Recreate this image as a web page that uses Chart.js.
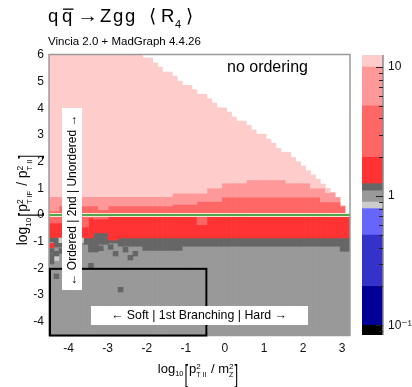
<!DOCTYPE html>
<html>
<head>
<meta charset="utf-8">
<script src="https://cdn.jsdelivr.net/npm/chart.js@4.4.0/dist/chart.umd.min.js"></script>
<style>
html, body { margin: 0; padding: 0; background: #fff; }
#wrap { position: relative; width: 412px; height: 387px; overflow: hidden; }
#main { position: absolute; left: 0; top: 0; }
#zbar { position: absolute; left: 355px; top: 0; }
</style>
</head>
<body>
<div id="wrap">
  <canvas id="main" width="412" height="387"></canvas>
  <canvas id="zbar" width="57" height="387"></canvas>
</div>
<script>
// --- Data ---
const xMin = -4.5, xMax = 3.2, yMin = -4.5, yMax = 6;
const nCols = 61;
const yBin = 0.175;
const xTicks = [-4, -3, -2, -1, 0, 1, 2, 3];
const yTicks = [-4, -3, -2, -1, 0, 1, 2, 3, 4, 5, 6];
const zeroLineY = 0;

// upper edge of filled region per column (white above)
const topEdge = [
  6, 6, 6, 6, 6, 6, 6, 6, 6, 6,
  6, 6, 6, 6, 6, 6, 6, 6, 6, 5.89,
  5.89, 5.71, 5.55, 5.36, 5.36, 5.21, 5.02, 4.86, 4.86, 4.70,
  4.53, 4.53, 4.36, 4.20, 4.02, 4.02, 3.86, 3.67, 3.52, 3.52,
  3.36, 3.19, 3.03, 3.03, 2.85, 2.69, 2.50, 2.35, 2.35, 2.16,
  2.00, 1.84, 1.66, 1.50, 1.34, 1.16, 1.00, 0.84, 0.66, 0.34,
  0.05
];
// lower edge of the >10 band
const pinkEdge = [
  0.69, 0.69, 0.69, 0.69, 0.69, 0.69, 0.69, 0.69, 0.69, 0.69,
  0.69, 0.69, 0.69, 0.69, 0.69, 0.69, 0.69, 0.69, 0.69, 0.69,
  0.69, 0.69, 0.69, 0.69, 0.69, 0.82, 0.82, 0.82, 0.82, 0.82,
  0.82, 0.82, 1.01, 1.01, 1.01, 1.20, 1.20, 1.20, 1.20, 1.20,
  1.32, 1.32, 1.32, 1.32, 1.32, 1.32, 1.32, 1.32, 1.20, 1.20,
  1.20, 1.20, 1.20, 1.01, 1.01, 1.01, 0.84, 0.84, 0.66, 0.34,
  0.05
];
// lower edge of the 5-10 band
const midEdge = [
  0.15, 0.15, 0.34, 0.34, 0.34, 0.34, 0.34, 0.34, 0.34, 0.34,
  0.20, 0.20, 0.34, 0.34, 0.34, 0.34, 0.34, 0.34, 0.34, 0.34,
  0.34, 0.34, 0.34, 0.34, 0.34, 0.40, 0.40, 0.40, 0.40, 0.40,
  0.51, 0.51, 0.51, 0.51, 0.51, 0.67, 0.67, 0.67, 0.67, 0.67,
  0.67, 0.67, 0.67, 0.67, 0.67, 0.67, 0.67, 0.67, 0.67, 0.67,
  0.67, 0.67, 0.67, 0.67, 0.67, 0.49, 0.49, 0.49, 0.49, 0.33,
  0.05
];
// below zero: lower edge of the 2-5 band
const redEdge = [
  -0.30, -0.30, -0.30, -0.30, -0.30, -0.30, -0.45, -0.45, -0.10, -0.15,
  -0.15, -0.15, -0.06, -0.06, -0.06, -0.06, -0.06, -0.06, -0.06, -0.06,
  -0.06, -0.06, -0.06, -0.06, -0.06, -0.06, -0.06, -0.06, -0.06, -0.06,
  -0.36, -0.36, -0.06, -0.06, -0.06, -0.06, -0.06, -0.06, -0.06, -0.06,
  -0.06, -0.06, -0.06, -0.06, -0.06, -0.06, -0.06, -0.06, -0.06, -0.06,
  -0.06, -0.06, -0.06, -0.06, -0.06, -0.06, -0.06, -0.06, -0.06, -0.06,
  -0.06
];
// lower edge of the 1.25-2 band
const grayTop = [
  -0.84, -0.84, -0.84, -0.86, -0.86, -0.86, -0.86, -0.86, -0.86, -0.67,
  -0.67, -0.67, -0.94, -0.94, -0.86, -0.86, -0.86, -0.86, -0.86, -0.86,
  -0.86, -0.86, -0.86, -0.86, -0.86, -0.86, -0.86, -0.86, -0.86, -0.86,
  -0.86, -0.86, -0.86, -0.86, -0.86, -0.86, -0.86, -0.86, -0.86, -0.86,
  -0.86, -0.86, -0.86, -0.86, -0.86, -0.86, -0.86, -0.86, -0.86, -0.86,
  -0.86, -0.86, -0.86, -0.86, -0.86, -0.86, -0.86, -0.86, -0.86, -0.86,
  -0.86
];
// lower edge of the 1.1-1.25 band
const grayBottom = [
  -1.00, -1.20, -1.20, -1.10, -1.10, -1.10, -0.86, -1.10, -1.20, -1.20,
  -1.10, -1.10, -1.05, -1.05, -1.17, -1.17, -1.17, -1.17, -1.17, -1.33,
  -1.33, -1.33, -1.33, -1.33, -1.33, -1.33, -1.33, -1.17, -1.17, -1.17,
  -1.17, -1.17, -1.17, -1.17, -1.17, -1.17, -1.17, -1.17, -1.17, -1.17,
  -1.17, -1.17, -1.17, -1.17, -1.17, -1.17, -1.17, -1.17, -1.17, -1.17,
  -1.17, -1.17, -1.17, -1.17, -1.17, -1.17, -1.17, -1.17, -1.17, -1.36,
  -1.36
];
// isolated cells [column, y]
const darkCells = [[0, -1.35], [0, -1.55], [0, -1.75], [1, -1.45], [2, -1.35], [8, -1.3], [9, -1.3],
  [10, -1.25], [12, -1.2], [13, -1.45], [15, -1.3], [16, -1.6], [17, -1.45], [8, -1.9], [1, -2.3], [14, -2.8]];
const lightCells = [[2, -0.95], [6, -0.95], [1, -1.62]];
const redCells = [[0, -1.15]];

const zLevels = [0.084, 0.1, 0.2, 0.5, 0.8, 0.9, 1.1, 1.25, 2, 5, 10, 12.4];
const zColors = ['#000000', '#000099', '#3333cc', '#6666ff', '#cccccc', '#999999', '#666666', '#ff3333', '#ff6666', '#ff9999', '#ffcccc'];
const zMajor = [0.1, 1, 10];
const zMajorLabels = ['10\u207B\u00B9', '1', '10'];

const FONT = "'Liberation Sans', Arial, Helvetica, 'DejaVu Sans', sans-serif";
Chart.defaults.font.family = FONT;
Chart.defaults.color = '#000';

// --- Build heat-map cells as floating bars ---
const colW = (xMax - xMin) / nCols;
const colCenters = Array.from({ length: nCols }, (_, i) => xMin + (i + 0.5) * colW);

function band(lo, hi) {
  const out = [];
  colCenters.forEach((x, i) => {
    const a = lo(i), b = hi(i);
    if (b > a + 1e-6) out.push({ x: x, y: [a, b] });
  });
  return out;
}
function cells(list) {
  return list.map(([c, y]) => ({ x: colCenters[c], y: [y - yBin / 2, y + yBin / 2] }));
}
const barDs = (data, color, order) => ({
  type: 'bar', data: data, backgroundColor: color, borderWidth: 0,
  grouped: false, barPercentage: 1, categoryPercentage: 1, order: order
});

const datasets = [
  { type: 'line', data: [{ x: xMin, y: zeroLineY }, { x: xMax, y: zeroLineY }], borderColor: '#1f8f1f', borderWidth: 1.3, pointRadius: 0, order: -3 },
  { type: 'line', data: [{ x: xMin, y: zeroLineY }, { x: xMax, y: zeroLineY }], borderColor: '#f3e6cf', borderWidth: 4, pointRadius: 0, order: -2 },
  barDs(cells(darkCells), '#666666', -1),
  barDs(cells(lightCells), '#cccccc', -1),
  barDs(cells(redCells), '#ff3333', -1),
  barDs(band(i => pinkEdge[i], i => topEdge[i]), '#ffcccc', 0),
  barDs(band(i => midEdge[i], i => Math.min(pinkEdge[i], topEdge[i])), '#ff9999', 0),
  barDs(band(i => zeroLineY, i => Math.min(midEdge[i], topEdge[i])), '#ff6666', 0),
  barDs(band(i => redEdge[i], i => zeroLineY), '#ff6666', 0),
  barDs(band(i => grayTop[i], i => redEdge[i]), '#ff3333', 0),
  barDs(band(i => grayBottom[i], i => grayTop[i]), '#666666', 0),
  barDs(band(i => yMin, i => grayBottom[i]), '#999999', 0)
];

// log10[a^2_sub / b^2_sub] label
function drawLogLabel(ctx, cx, by, a, aSub, b, bSub) {
  const parts = [
    { t: 'log', s: 13, dy: 0 },
    { t: '10', s: 7.5, dy: 3.5, gap: 1 },
    { t: '[', s: 26, dy: 10, sx: 0.5, gap: 1 },
    { t: a, s: 13, dy: 0 },
    { t: '2', s: 8, dy: -3.5, sub: aSub, subS: 7, subDy: 4.5, gap: 1 },
    { t: ' / ', s: 13, dy: 0 },
    { t: b, s: 13, dy: 0 },
    { t: '2', s: 8, dy: -3.5, sub: bSub, subS: 7, subDy: 4.5, gap: 1 },
    { t: ']', s: 26, dy: 10, sx: 0.5 }
  ];
  let total = 0;
  parts.forEach(p => {
    ctx.font = p.s + 'px ' + FONT;
    let w = ctx.measureText(p.t).width * (p.sx || 1);
    if (p.sub) { ctx.font = p.subS + 'px ' + FONT; w = Math.max(w, ctx.measureText(p.sub).width); }
    p.w = w + (p.gap || 0);
    total += p.w;
  });
  let x = cx - total / 2;
  ctx.textAlign = 'left';
  ctx.textBaseline = 'alphabetic';
  parts.forEach(p => {
    ctx.font = p.s + 'px ' + FONT;
    if (p.sx) {
      ctx.save(); ctx.translate(x, by + p.dy); ctx.scale(p.sx, 1); ctx.fillText(p.t, 0, 0); ctx.restore();
    } else {
      ctx.fillText(p.t, x, by + p.dy);
    }
    if (p.sub) { ctx.font = p.subS + 'px ' + FONT; ctx.fillText(p.sub, x, by + p.subDy); }
    x += p.w;
  });
}

function fitFont(ctx, text, target) {
  ctx.font = '13px ' + FONT;
  return (13 * target / ctx.measureText(text).width).toFixed(2) + 'px ' + FONT;
}

const overlay = {
  id: 'overlay',
  afterDraw(chart) {
    const ctx = chart.ctx, ca = chart.chartArea;
    const xs = chart.scales.x, ys = chart.scales.y;
    ctx.save();
    // frame
    ctx.strokeStyle = '#9a9a9a'; ctx.lineWidth = 1.5;
    ctx.strokeRect(ca.left, ca.top - 0.5, ca.right - ca.left, ca.bottom - ca.top + 1);
    // soft region box
    const bx0 = xs.getPixelForValue(-4.5), bx1 = xs.getPixelForValue(-0.5);
    const byT = ys.getPixelForValue(-2), byB = ys.getPixelForValue(-4.5);
    ctx.strokeStyle = '#000'; ctx.lineWidth = 2;
    ctx.strokeRect(bx0 + 1, byT + 0.5, bx1 - bx0, byB - byT);
    // white label boxes
    ctx.fillStyle = '#fff';
    ctx.fillRect(91, 306, 217, 19);
    ctx.fillRect(62, 108, 20, 182);
    ctx.fillStyle = '#000';
    ctx.textAlign = 'center'; ctx.textBaseline = 'middle';
    const hTxt = '\u2190 Soft | 1st Branching | Hard \u2192';
    ctx.font = fitFont(ctx, hTxt, 176);
    ctx.fillText(hTxt, 199, 316);
    const vTxt = '\u2190 Ordered | 2nd | Unordered \u2192';
    ctx.save();
    ctx.translate(72.5, 200); ctx.rotate(-Math.PI / 2);
    ctx.font = fitFont(ctx, vTxt, 171);
    ctx.fillText(vTxt, 0, 0);
    ctx.restore();
    // corner text
    ctx.textAlign = 'left'; ctx.textBaseline = 'alphabetic';
    ctx.font = '16px ' + FONT;
    ctx.fillText('no ordering', 227, 72);
    // title
    ctx.font = '18.5px ' + FONT;
    ctx.fillText('q', 48, 22);
    ctx.fillText('q', 62, 22);
    ctx.fillRect(63, 8.5, 10.5, 1.3);
    const arrow = '\u2192';
    const aw = ctx.measureText(arrow).width;
    ctx.save(); ctx.translate(77, 22); ctx.scale(21 / aw, 1); ctx.fillText(arrow, 0, 0); ctx.restore();
    ctx.fillText('Z', 100, 22);
    ctx.fillText('g', 113, 22);
    ctx.fillText('g', 125, 22);
    ctx.fillText('\u27E8', 149, 22);
    ctx.fillText('R', 161, 22);
    ctx.fillText('\u27E9', 186, 22);
    ctx.font = '11px ' + FONT;
    ctx.fillText('4', 175, 28);
    ctx.font = '11.5px ' + FONT;
    ctx.fillText('Vincia 2.0 + MadGraph 4.4.26', 48, 45);
    // axis titles
    drawLogLabel(ctx, 198, 372.5, 'p', 'T II', 'm', 'Z');
    ctx.save();
    ctx.translate(27, 200); ctx.rotate(-Math.PI / 2); ctx.scale(1.07, 1.07);
    drawLogLabel(ctx, 0, 0, 'p', 'T IF', 'p', 'T II');
    ctx.restore();
    ctx.restore();
  }
};

new Chart(document.getElementById('main'), {
  data: { datasets: datasets },
  options: {
    responsive: false, animation: false, devicePixelRatio: 1,
    layout: { padding: { top: 55, right: 62, left: 0, bottom: 0 } },
    plugins: { legend: { display: false }, tooltip: { enabled: false } },
    scales: {
      x: {
        type: 'linear', min: xMin, max: xMax, offset: false,
        grid: { display: false, offset: false, drawTicks: false }, border: { display: false },
        afterBuildTicks: s => { s.ticks = xTicks.map(v => ({ value: v })); },
        afterFit: s => { s.height = 52; },
        ticks: { padding: 6, font: { size: 12 }, color: '#111', autoSkip: false, maxRotation: 0 }
      },
      y: {
        type: 'linear', min: yMin, max: yMax,
        grid: { display: false, drawTicks: false }, border: { display: false },
        afterBuildTicks: s => { s.ticks = yTicks.map(v => ({ value: v })); },
        afterFit: s => { s.width = 49; },
        ticks: { padding: 5, font: { size: 12 }, color: '#111', autoSkip: false }
      }
    }
  },
  plugins: [overlay]
});

// --- Colour scale ---
const zTicksPlugin = {
  id: 'zticks',
  afterDraw(chart) {
    const ctx = chart.ctx, ca = chart.chartArea, ys = chart.scales.y;
    ctx.save();
    ctx.strokeStyle = '#8a8a8a'; ctx.lineWidth = 1.5;
    ctx.beginPath(); ctx.moveTo(ca.right, ca.top); ctx.lineTo(ca.right, ca.bottom); ctx.stroke();
    ctx.strokeStyle = '#222'; ctx.lineWidth = 1;
    ys.ticks.forEach(t => {
      const v = t.value;
      if (v < ys.min || v > ys.max) return;
      const m = v / Math.pow(10, Math.floor(Math.log10(v) + 1e-9));
      if (Math.abs(m - Math.round(m)) > 1e-6) return;
      const major = zMajor.some(z => Math.abs(z - v) / z < 1e-6);
      const y = Math.round(ys.getPixelForValue(v)) + 0.5;
      ctx.beginPath(); ctx.moveTo(ca.right, y); ctx.lineTo(ca.right - (major ? 7 : 4), y); ctx.stroke();
    });
    ctx.restore();
  }
};

new Chart(document.getElementById('zbar'), {
  type: 'bar',
  data: {
    labels: [''],
    datasets: zColors.map((c, i) => ({
      data: [[zLevels[i], zLevels[i + 1]]], backgroundColor: c, borderWidth: 0,
      grouped: false, barPercentage: 1, categoryPercentage: 1
    }))
  },
  options: {
    responsive: false, animation: false, devicePixelRatio: 1,
    layout: { padding: { top: 55, bottom: 52, left: 7, right: 0 } },
    plugins: { legend: { display: false }, tooltip: { enabled: false } },
    scales: {
      x: { display: false },
      y: {
        type: 'logarithmic', position: 'right', min: zLevels[0], max: zLevels[zLevels.length - 1],
        grid: { display: false, drawTicks: false }, border: { display: false },
        afterFit: s => { s.width = 29; },
        ticks: {
          padding: 5, autoSkip: false, font: { size: 12 }, color: '#111',
          callback: v => {
            const k = zMajor.findIndex(z => Math.abs(z - v) / z < 1e-6);
            return k >= 0 ? zMajorLabels[k] : '';
          }
        }
      }
    }
  },
  plugins: [zTicksPlugin]
});
</script>
</body>
</html>
